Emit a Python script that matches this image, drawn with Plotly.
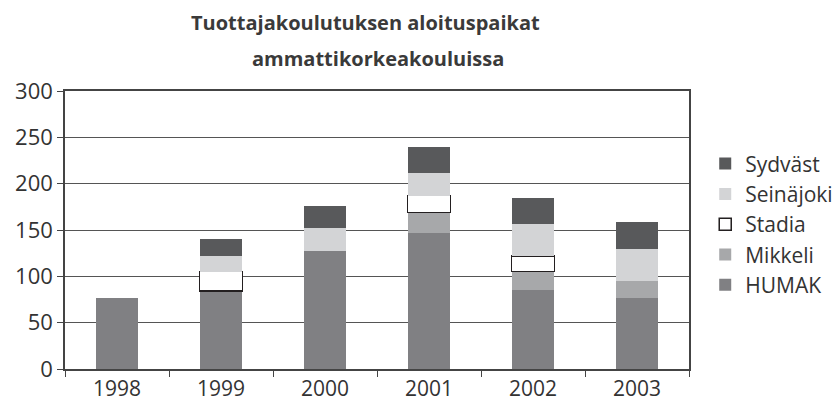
import plotly.graph_objects as go

years = ["1998", "1999", "2000", "2001", "2002", "2003"]
humak = [77, 84, 127, 147, 85, 77]
mikkeli = [None, None, None, 22, 20, 18]
stadia = [None, 21, None, 18, 17, None]
seinajoki = [None, 17, 25, 25, 35, 35]
sydvast = [None, 18, 24, 28, 28, 29]

series = [
    ("HUMAK", humak, "#808083", None),
    ("Mikkeli", mikkeli, "#a7a8aa", None),
    ("Stadia", stadia, "#ffffff", "#231f20"),
    ("Seinäjoki", seinajoki, "#d3d4d6", None),
    ("Sydväst", sydvast, "#58595b", None),
]

fig = go.Figure()
for name, vals, color, line in series:
    fig.add_trace(go.Bar(
        x=years, y=vals, name=name, legendgroup=name,
        marker=dict(color=color,
                    line=dict(color=line if line else color, width=1.5 if line else 0)),
    ))

font = "Open Sans, DejaVu Sans, sans-serif"
fig.update_layout(
    barmode="stack",
    bargap=0.59,
    width=836, height=401,
    margin=dict(l=65, r=147, t=91, b=32, autoexpand=False),
    plot_bgcolor="white", paper_bgcolor="white",
    font=dict(family=font, size=22, color="#333333"),
    showlegend=True,
    legend=dict(traceorder="reversed", x=1.026, xanchor="left", y=0.52, yanchor="middle",
                font=dict(size=21, color="#333333"), tracegroupgap=7,
                itemwidth=30),
    xaxis=dict(showline=True, linecolor="#444444", linewidth=1.5, mirror=True,
               ticks="outside", tickson="boundaries", ticklen=6, tickcolor="#444444",
               showgrid=False, tickfont=dict(size=21), automargin=False),
    yaxis=dict(range=[0, 300], dtick=50, showline=True, linecolor="#444444", linewidth=1.5,
               mirror=True, ticks="outside", ticklen=6, tickcolor="#444444",
               showgrid=True, gridcolor="#555555", gridwidth=1,
               zeroline=False, tickfont=dict(size=22), automargin=False),
    annotations=[
        dict(text="<b>Tuottajakoulutuksen aloituspaikat</b>", xref="paper", yref="paper",
             x=(365 - 65) / 624, y=(369 - 22) / 278, xanchor="center", yanchor="middle",
             showarrow=False, font=dict(size=20, color="#3a3a3a")),
        dict(text="<b>ammattikorkeakouluissa</b>", xref="paper", yref="paper",
             x=(378 - 65) / 624, y=(369 - 58) / 278, xanchor="center", yanchor="middle",
             showarrow=False, font=dict(size=20, color="#3a3a3a")),
    ],
)

fig.write_html("out.html", config={"displayModeBar": False},
               post_script="document.body.style.margin='0';document.body.style.overflow='hidden';")
